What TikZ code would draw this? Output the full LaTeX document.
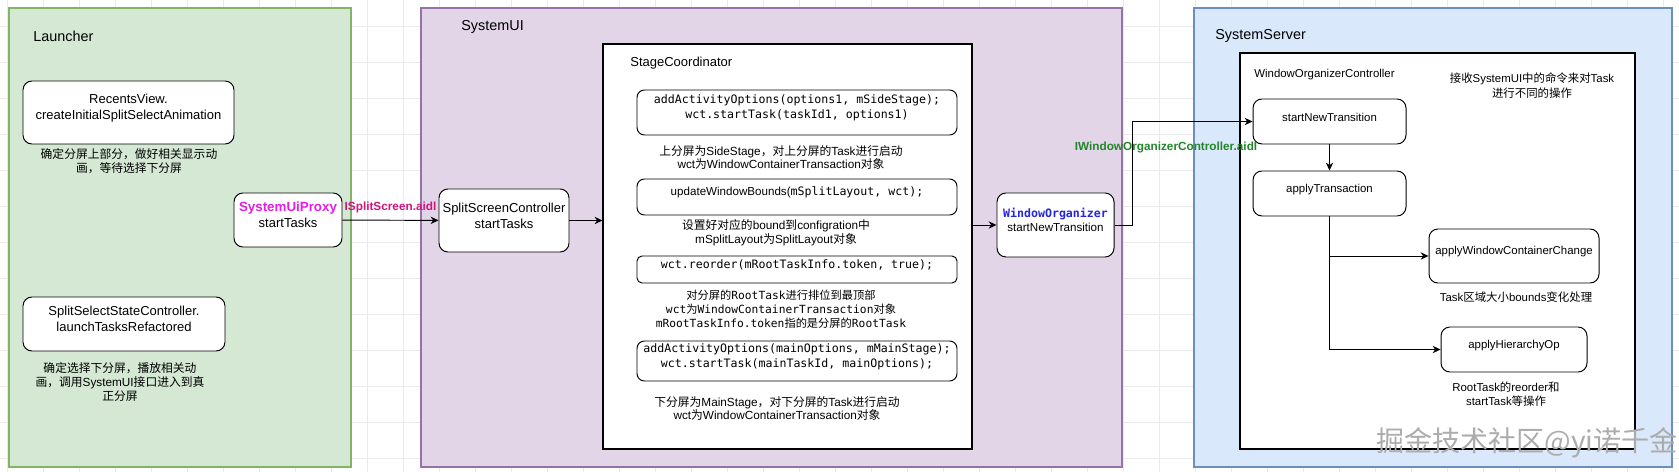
\documentclass[tikz,border=0pt]{standalone}
\usepackage{fontspec}
\setmainfont{Liberation Sans}
\setmonofont{DejaVu Sans Mono}
\newfontfamily\cjk{Noto Sans CJK SC}
\newcommand\zh[1]{{\cjk #1}}
\usetikzlibrary{arrows.meta,fit}

\definecolor{launcherfill}{HTML}{D5E8D4}
\definecolor{launcherline}{HTML}{82B366}
\definecolor{sysuifill}{HTML}{E1D5E7}
\definecolor{sysuiline}{HTML}{9673A6}
\definecolor{serverfill}{HTML}{DAE8FC}
\definecolor{serverline}{HTML}{6C8EBF}
\definecolor{proxypink}{HTML}{E51EE5}
\definecolor{aidlpink}{HTML}{D0157F}
\definecolor{aidlgreen}{HTML}{23862A}
\definecolor{orgblue}{HTML}{2626DC}
\definecolor{gridcol}{HTML}{EAEAEA}

\newcommand\titlefont{\fontsize{8.2}{10}\selectfont}
\newcommand\boxfont{\fontsize{7.4}{9.1}\selectfont}
\newcommand\srvfont{\fontsize{6.5}{8.5}\selectfont}
\newcommand\capfont{\fontsize{6.7}{7.9}\selectfont}
\newcommand\codefont{\fontsize{6.6}{8.5}\selectfont\ttfamily}
\newcommand\codecapfont{\fontsize{6.4}{7.9}\selectfont\ttfamily}

\tikzset{
  area/.style={draw, inner sep=0pt, line width=0.6pt},
  call/.style={draw, fill=white, rounded corners=0.18cm, align=center, inner sep=0pt, line width=0.55pt, font=\boxfont},
  note/.style={align=center, inner sep=0pt, font=\capfont},
  aidl/.style={inner sep=0pt, font=\fontsize{6.7}{8}\selectfont\bfseries},
  link/.style={-{Stealth[length=4.5pt,width=4.2pt]}, line width=0.55pt},
}

\begin{document}
\begin{tikzpicture}[x=0.02cm, y=-0.02cm]
\useasboundingbox (0,0) rectangle (1679,472);

% background grid
\foreach \gx in {7,43,...,1679} \draw[gridcol, line width=0.5pt] (\gx,0) -- (\gx,472);
\foreach \gy in {26,62,...,472} \draw[gridcol, line width=0.5pt] (0,\gy) -- (1679,\gy);

% the three processes
\node[area, draw=launcherline, fill=launcherfill, fit={(9,8) (351,467)}] (launcher) {};
\node[area, draw=sysuiline, fill=sysuifill, fit={(421,8) (1122,467)}] (systemui) {};
\node[area, draw=serverline, fill=serverfill, fit={(1194,8) (1672,467)}] (systemserver) {};
\node[area, fill=white, fit={(603,44) (972,449)}] (stagecoord) {};
\node[area, fill=white, fit={(1240,53) (1635,449)}] (orgctrl) {};

\node[anchor=west, inner sep=0pt, font=\titlefont] (launchertitle) at (33,36) {Launcher};
\node[anchor=west, inner sep=0pt, font=\titlefont] (systemuititle) at (461,27) {SystemUI};
\node[anchor=west, inner sep=0pt, font=\titlefont] (servertitle) at (1215,36) {SystemServer};
\node[anchor=west, inner sep=0pt, font=\boxfont] (stagetitle) at (630,63) {StageCoordinator};
\node[anchor=west, inner sep=0pt, font=\srvfont] (orgtitle) at (1254,75) {WindowOrganizerController};

% Launcher
\node[call, fit={(23,81) (234,144)}] (recents) {RecentsView.\\createInitialSplitSelectAnimation};
\node[note] (recentsnote) at (129,161.5) {\zh{确定分屏上部分，做好相关显示动}\\\zh{画，等待选择下分屏}};
\node[call, fit={(23,297) (225,351)}] (splitselect) {SplitSelectStateController.\\launchTasksRefactored};
\node[note] (splitselectnote) at (120,382) {\zh{确定选择下分屏，播放相关动}\\\zh{画，调用}SystemUI\zh{接口进入到真}\\\zh{正分屏}};
\node[call, fit={(234,193) (342,247)}] (proxy) {{\fontsize{7.6}{9.1}\selectfont\bfseries\color{proxypink}SystemUiProxy}\\startTasks};

% SystemUI
\node[call, fit={(439,189) (569,252)}] (splitctrl) {SplitScreenController\\startTasks};

\node[call, rounded corners=0.15cm, fit={(637,90) (957,135)}, font=\codefont] (sidestage) {addActivityOptions(options1, mSideStage);\\wct.startTask(taskId1, options1)};
\node[note] (sidenote) at (781,157.5) {\zh{上分屏为}SideStage\zh{，对上分屏的}Task\zh{进行启动}\\wct\zh{为}WindowContainerTransaction\zh{对象}};
\node[call, rounded corners=0.15cm, fit={(637,179) (957,215)}] (bounds) {\fontsize{6.6}{8.5}\selectfont updateWindowBounds({\codefont mSplitLayout, wct);}};
\node[note] (boundsnote) at (776,233) {\zh{设置好对应的}bound\zh{到}configration\zh{中}\\mSplitLayout\zh{为}SplitLayout\zh{对象}};
\node[call, rounded corners=0.1cm, fit={(637,256) (957,283)}, font=\codefont] (reorder) {wct.reorder(mRootTaskInfo.token, true);};
\node[note, font=\codecapfont] (reordernote) at (781,309) {\zh{对分屏的}RootTask\zh{进行排位到最顶部}\\wct\zh{为}WindowContainerTransaction\zh{对象}\\mRootTaskInfo.token\zh{指的是分屏的}RootTask};
\node[call, rounded corners=0.15cm, fit={(637,341) (957,381)}, font=\codefont] (mainstage) {addActivityOptions(mainOptions, mMainStage);\\wct.startTask(mainTaskId, mainOptions);};
\node[note] (mainnote) at (777,408.5) {\zh{下分屏为}MainStage\zh{，对下分屏的}Task\zh{进行启动}\\wct\zh{为}WindowContainerTransaction\zh{对象}};

\node[call, fit={(997,193) (1114,257)}, font=\fontsize{6.6}{8}\selectfont] (winorg) {{\codefont\bfseries\color{orgblue}WindowOrganizer}\\startNewTransition};

% SystemServer
\node[note, font=\srvfont] (ordernote) at (1532,86) {\zh{接收}SystemUI\zh{中的命令来对}Task\\\zh{进行不同的操作}};
\node[call, font=\srvfont, fit={(1253,99) (1406,144)}] (startnew) {startNewTransition};
\node[call, font=\srvfont, fit={(1253,171) (1406,216)}] (applytx) {applyTransaction};
\node[call, font=\srvfont, fit={(1429,229) (1599,283)}] (wcchange) {applyWindowContainerChange};
\node[note, font=\srvfont] (wcchangenote) at (1516,297) {Task\zh{区域大小}bounds\zh{变化处理}};
\node[call, font=\srvfont, fit={(1441,327) (1587,372)}] (hierop) {applyHierarchyOp};
\node[note, font=\fontsize{6.5}{7.9}\selectfont] (hieropnote) at (1506,394) {RootTask\zh{的}reorder\zh{和}\\startTask\zh{等操作}};

% calls
\draw[link] (proxy) -- (splitctrl) node[aidl, midway, above=4pt, text=aidlpink] (splitaidl) {ISplitScreen.aidl};
\draw[link] (splitctrl.east) -- (splitctrl.east -| stagecoord.west);
\draw[link] (stagecoord.east |- winorg) -- (winorg);
\coordinate (binder) at (1132,225);
\draw[link] (winorg.east |- binder) -- (binder) |- (startnew);
\node[aidl, text=aidlgreen] (orgaidl) at (1166,147) {IWindowOrganizerController.aidl};
\draw[link] (startnew) -- (applytx);
\draw[link] (applytx.south) |- (wcchange);
\draw[link] (applytx.south) |- (hierop);

\node[inner sep=0pt, text=gray!65, font=\cjk\fontsize{16}{16}\selectfont] (watermark) at (1527,443) {掘金技术社区@yi诺千金};
\end{tikzpicture}
\end{document}
